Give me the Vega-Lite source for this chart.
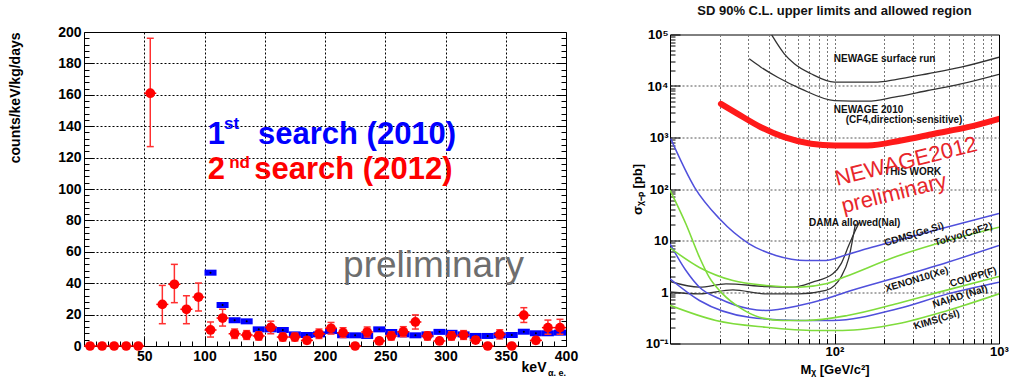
{
  "$schema": "https://vega.github.io/schema/vega-lite/v6.json",
  "background": "white",
  "padding": {"left": 7, "top": 4, "right": 0, "bottom": 0},
  "config": {
    "view": {"stroke": "#000", "strokeWidth": 1},
    "axis": {
      "domain": false,
      "labelFont": "Liberation Sans",
      "labelFontWeight": "bold",
      "labelColor": "#000",
      "titleFont": "Liberation Sans",
      "titleFontWeight": "bold",
      "titleColor": "#000",
      "tickColor": "#000",
      "labelFlush": false,
      "labelOverlap": false
    },
    "text": {"font": "Liberation Sans"}
  },
  "datasets": {
    "second": [
      {"c": 5, "v": 0}, {"c": 15, "v": 0}, {"c": 25, "v": 0}, {"c": 35, "v": 0}, {"c": 45, "v": 0},
      {"c": 55, "v": 161, "lo": 127, "hi": 196},
      {"c": 65, "v": 26.5, "lo": 14.2, "hi": 38.6},
      {"c": 75, "v": 39.3, "lo": 27.6, "hi": 52},
      {"c": 85, "v": 23.4, "lo": 14.2, "hi": 32},
      {"c": 95, "v": 31.2, "lo": 22.3, "hi": 40.1},
      {"c": 105, "v": 10.2, "lo": 5.7, "hi": 15.3},
      {"c": 115, "v": 17.8, "lo": 12.7, "hi": 23.4},
      {"c": 125, "v": 7.8, "lo": 4.8, "hi": 10.8},
      {"c": 135, "v": 7.0, "lo": 4.2, "hi": 9.8},
      {"c": 145, "v": 6.4, "lo": 3.8, "hi": 9.0},
      {"c": 155, "v": 11.8, "lo": 7.8, "hi": 15.8},
      {"c": 165, "v": 5.7, "lo": 3.2, "hi": 8.2},
      {"c": 175, "v": 5.7, "lo": 3.2, "hi": 8.2},
      {"c": 185, "v": 3.6, "lo": 1.6, "hi": 5.6},
      {"c": 195, "v": 7.8, "lo": 4.8, "hi": 10.8},
      {"c": 205, "v": 11.3, "lo": 7.6, "hi": 15.0},
      {"c": 215, "v": 8.5, "lo": 5.4, "hi": 11.6},
      {"c": 225, "v": 0},
      {"c": 235, "v": 8.9, "lo": 5.7, "hi": 12.1},
      {"c": 245, "v": 3.2, "lo": 1.3, "hi": 5.1},
      {"c": 255, "v": 6.4, "lo": 3.8, "hi": 9.0},
      {"c": 265, "v": 9.1, "lo": 5.9, "hi": 12.3},
      {"c": 275, "v": 15.3, "lo": 10.8, "hi": 19.8},
      {"c": 285, "v": 6.4, "lo": 3.8, "hi": 9.0},
      {"c": 295, "v": 3.2, "lo": 1.3, "hi": 5.1},
      {"c": 305, "v": 6.4, "lo": 3.8, "hi": 9.0},
      {"c": 315, "v": 7.0, "lo": 4.2, "hi": 9.8},
      {"c": 325, "v": 3.8, "lo": 1.8, "hi": 5.8},
      {"c": 335, "v": 0},
      {"c": 345, "v": 7.4, "lo": 4.5, "hi": 10.3},
      {"c": 355, "v": 0},
      {"c": 365, "v": 19.6, "lo": 15.0, "hi": 24.4},
      {"c": 375, "v": 3.6, "lo": 1.6, "hi": 5.6},
      {"c": 385, "v": 11.7, "lo": 7.5, "hi": 16.5},
      {"c": 395, "v": 11.7, "lo": 7.5, "hi": 17.0}
    ],
    "first": [
      {"c": 105, "v": 46.7}, {"c": 115, "v": 26.1}, {"c": 125, "v": 16.4}, {"c": 135, "v": 15.7},
      {"c": 145, "v": 10.6}, {"c": 155, "v": 10.6}, {"c": 165, "v": 10.2}, {"c": 175, "v": 7.4},
      {"c": 185, "v": 7.0}, {"c": 195, "v": 7.4}, {"c": 205, "v": 9.5}, {"c": 215, "v": 6.8},
      {"c": 225, "v": 6.8}, {"c": 235, "v": 6.4}, {"c": 245, "v": 10.6}, {"c": 255, "v": 8.9},
      {"c": 265, "v": 7.4}, {"c": 275, "v": 6.8}, {"c": 285, "v": 7.4}, {"c": 295, "v": 9.0},
      {"c": 305, "v": 8.4}, {"c": 315, "v": 7.4}, {"c": 325, "v": 6.4}, {"c": 335, "v": 6.4},
      {"c": 345, "v": 6.8}, {"c": 355, "v": 7.0}, {"c": 365, "v": 9.1}, {"c": 375, "v": 8.1},
      {"c": 385, "v": 8.1}, {"c": 395, "v": 8.5}
    ],
    "limits": [
      {"k": "surf", "m": 41.5, "s": 98000}, {"k": "surf", "m": 49.5, "s": 42200}, {"k": "surf", "m": 57, "s": 27000},
      {"k": "surf", "m": 72, "s": 17300}, {"k": "surf", "m": 100, "s": 11900}, {"k": "surf", "m": 183, "s": 11900},
      {"k": "surf", "m": 231, "s": 13200}, {"k": "surf", "m": 369, "s": 17300}, {"k": "surf", "m": 588, "s": 23200},
      {"k": "surf", "m": 1000, "s": 36200},
      {"k": "n2010", "m": 30.3, "s": 33700}, {"k": "n2010", "m": 35.7, "s": 23200}, {"k": "n2010", "m": 45.1, "s": 14800},
      {"k": "n2010", "m": 62.6, "s": 8810}, {"k": "n2010", "m": 100, "s": 5220}, {"k": "n2010", "m": 159, "s": 5070},
      {"k": "n2010", "m": 231, "s": 6070}, {"k": "n2010", "m": 369, "s": 8180}, {"k": "n2010", "m": 588, "s": 11000},
      {"k": "n2010", "m": 1000, "s": 16900},
      {"k": "n2012", "m": 20.4, "s": 4510}, {"k": "n2012", "m": 25.8, "s": 2880}, {"k": "n2012", "m": 35.7, "s": 1585},
      {"k": "n2012", "m": 49.5, "s": 1014}, {"k": "n2012", "m": 72, "s": 755}, {"k": "n2012", "m": 100, "s": 700},
      {"k": "n2012", "m": 159, "s": 700}, {"k": "n2012", "m": 254, "s": 875}, {"k": "n2012", "m": 404, "s": 1180},
      {"k": "n2012", "m": 645, "s": 1585}, {"k": "n2012", "m": 1000, "s": 2310},
      {"k": "cdms", "m": 10.1, "s": 950}, {"k": "cdms", "m": 14.1, "s": 108}, {"k": "cdms", "m": 20, "s": 26.4},
      {"k": "cdms", "m": 30.3, "s": 8.63}, {"k": "cdms", "m": 44, "s": 5.12}, {"k": "cdms", "m": 67, "s": 4.09},
      {"k": "cdms", "m": 88.7, "s": 4.09}, {"k": "cdms", "m": 112, "s": 5.0}, {"k": "cdms", "m": 159, "s": 7.0},
      {"k": "cdms", "m": 403, "s": 15.6}, {"k": "cdms", "m": 1000, "s": 33.4},
      {"k": "xenon", "m": 10, "s": 8.6}, {"k": "xenon", "m": 12.5, "s": 2.61}, {"k": "xenon", "m": 15.1, "s": 1.24},
      {"k": "xenon", "m": 20, "s": 0.738}, {"k": "xenon", "m": 30.3, "s": 0.472}, {"k": "xenon", "m": 38.3, "s": 0.438},
      {"k": "xenon", "m": 61, "s": 0.547}, {"k": "xenon", "m": 88.7, "s": 0.738}, {"k": "xenon", "m": 117, "s": 0.99},
      {"k": "xenon", "m": 242, "s": 1.94}, {"k": "xenon", "m": 488, "s": 3.79}, {"k": "xenon", "m": 1000, "s": 8.0},
      {"k": "naiad", "m": 10, "s": 1.8}, {"k": "naiad", "m": 15.1, "s": 0.684}, {"k": "naiad", "m": 30.3, "s": 0.324},
      {"k": "naiad", "m": 61, "s": 0.28}, {"k": "naiad", "m": 97.7, "s": 0.28}, {"k": "naiad", "m": 242, "s": 0.472},
      {"k": "naiad", "m": 488, "s": 0.92}, {"k": "naiad", "m": 1000, "s": 1.55},
      {"k": "kims", "m": 10, "s": 0.55}, {"k": "kims", "m": 19, "s": 0.28}, {"k": "kims", "m": 38.3, "s": 0.207},
      {"k": "kims", "m": 77, "s": 0.179}, {"k": "kims", "m": 112, "s": 0.179}, {"k": "kims", "m": 242, "s": 0.241},
      {"k": "kims", "m": 488, "s": 0.438}, {"k": "kims", "m": 1000, "s": 0.92},
      {"k": "tokyo", "m": 10, "s": 7.2}, {"k": "tokyo", "m": 15.1, "s": 3.0}, {"k": "tokyo", "m": 24.1, "s": 1.67},
      {"k": "tokyo", "m": 38.3, "s": 1.34}, {"k": "tokyo", "m": 61, "s": 1.24}, {"k": "tokyo", "m": 88.7, "s": 1.44},
      {"k": "tokyo", "m": 117, "s": 2.0}, {"k": "tokyo", "m": 242, "s": 5.0}, {"k": "tokyo", "m": 488, "s": 10.0},
      {"k": "tokyo", "m": 1000, "s": 18.1},
      {"k": "coupp", "m": 10, "s": 95}, {"k": "coupp", "m": 12.5, "s": 20.9}, {"k": "coupp", "m": 15.1, "s": 4.74},
      {"k": "coupp", "m": 17.3, "s": 1.94}, {"k": "coupp", "m": 20.9, "s": 0.92}, {"k": "coupp", "m": 26.3, "s": 0.507},
      {"k": "coupp", "m": 34.9, "s": 0.324}, {"k": "coupp", "m": 48.3, "s": 0.28}, {"k": "coupp", "m": 67, "s": 0.28},
      {"k": "coupp", "m": 120, "s": 0.35}, {"k": "coupp", "m": 242, "s": 0.6}, {"k": "coupp", "m": 488, "s": 1.1},
      {"k": "coupp", "m": 1000, "s": 2.0},
      {"k": "dama1", "m": 10, "s": 1.6}, {"k": "dama1", "m": 15.1, "s": 1.24}, {"k": "dama1", "m": 21.9, "s": 1.44},
      {"k": "dama1", "m": 38.3, "s": 1.28}, {"k": "dama1", "m": 55.7, "s": 1.24}, {"k": "dama1", "m": 73.6, "s": 1.55},
      {"k": "dama1", "m": 97.7, "s": 2.25}, {"k": "dama1", "m": 110, "s": 3.6}, {"k": "dama1", "m": 122, "s": 8},
      {"k": "dama1", "m": 133, "s": 15}, {"k": "dama1", "m": 142, "s": 23},
      {"k": "dama2", "m": 10, "s": 1.0}, {"k": "dama2", "m": 15.1, "s": 0.92}, {"k": "dama2", "m": 24.1, "s": 1.1},
      {"k": "dama2", "m": 38.3, "s": 0.92}, {"k": "dama2", "m": 61, "s": 0.92}, {"k": "dama2", "m": 88.7, "s": 1.07},
      {"k": "dama2", "m": 110, "s": 2.0}, {"k": "dama2", "m": 122, "s": 4.5}, {"k": "dama2", "m": 134, "s": 21}
    ]
  },
  "hconcat": [
    {
      "width": 482,
      "height": 314,
      "resolve": {"axis": {"y": "independent"}},
      "layer": [
        {
          "layer": [
            {
              "mark": {"type": "rule", "color": "#ff0000", "strokeWidth": 2},
              "encoding": {"y": {"datum": 0}}
            },
            {
              "mark": {"type": "rule", "color": "#ff0000", "strokeWidth": 1.5},
              "encoding": {"x": {"datum": 400}}
            },
            {
              "data": {"name": "first"},
              "mark": {"type": "tick", "orient": "horizontal", "size": 12, "thickness": 6, "color": "#0000ff", "opacity": 1},
              "encoding": {
                "x": {
                  "field": "c", "type": "quantitative",
                  "scale": {"domain": [0, 400], "nice": false},
                  "axis": {
                    "values": [0,10,20,30,40,50,60,70,80,90,100,110,120,130,140,150,160,170,180,190,200,210,220,230,240,250,260,270,280,290,300,310,320,330,340,350,360,370,380,390,400],
                    "tickCount": 1000,
                    "format": "d",
                    "labelExpr": "datum.value % 50 == 0 && datum.value > 0 ? datum.label : ''",
                    "labelOverlap": false,
                    "labelFlush": false,
                    "labelFontSize": 14,
                    "labelPadding": 13,
                    "tickSize": {"condition": {"test": "datum.value % 50 == 0", "value": -10}, "value": -5},
                    "grid": true,
                    "gridColor": "#000",
                    "gridDash": [2, 2],
                    "gridOpacity": {"condition": {"test": "datum.value % 50 == 0 && datum.value > 0 && datum.value < 400", "value": 1}, "value": 0},
                    "title": "keV",
                    "titleFontSize": 14,
                    "titleX": 462,
                    "titleY": 25,
                    "titleAlign": "right",
                    "titleBaseline": "alphabetic"
                  }
                },
                "y": {
                  "field": "v", "type": "quantitative",
                  "scale": {"domain": [0, 200], "nice": false},
                  "axis": {
                    "values": [0,4,8,12,16,20,24,28,32,36,40,44,48,52,56,60,64,68,72,76,80,84,88,92,96,100,104,108,112,116,120,124,128,132,136,140,144,148,152,156,160,164,168,172,176,180,184,188,192,196,200],
                    "tickCount": 1000,
                    "format": "d",
                    "labelExpr": "datum.value % 20 == 0 ? datum.label : ''",
                    "labelOverlap": false,
                    "labelFlush": false,
                    "labelFontSize": 14,
                    "labelPadding": 13,
                    "tickSize": {"condition": {"test": "datum.value % 20 == 0", "value": -10}, "value": -5},
                    "grid": true,
                    "gridColor": "#000",
                    "gridDash": [2, 2],
                    "gridOpacity": {"condition": {"test": "datum.value % 20 == 0 && datum.value > 0 && datum.value < 200", "value": 1}, "value": 0},
                    "title": "counts/keV/kg/days",
                    "titleFontSize": 14,
                    "titleX": -65,
                    "titleY": 0,
                    "titleAlign": "right",
                    "titleBaseline": "alphabetic"
                  }
                }
              }
            },
            {
              "data": {"name": "first"},
              "mark": {"type": "point", "filled": true, "size": 4, "color": "#000", "opacity": 1},
              "encoding": {
                "x": {"field": "c", "type": "quantitative"},
                "y": {"field": "v", "type": "quantitative"}
              }
            },
            {
              "data": {"name": "second"},
              "transform": [{"filter": "isValid(datum.lo)"}],
              "mark": {"type": "rule", "color": "#ff3030", "strokeWidth": 1.5},
              "encoding": {
                "x": {"field": "c", "type": "quantitative"},
                "y": {"field": "lo", "type": "quantitative"},
                "y2": {"field": "hi"}
              }
            },
            {
              "data": {"name": "second"},
              "transform": [{"filter": "isValid(datum.lo)"}],
              "mark": {"type": "tick", "orient": "horizontal", "size": 7, "thickness": 1.5, "color": "#ff3030", "opacity": 1},
              "encoding": {
                "x": {"field": "c", "type": "quantitative"},
                "y": {"field": "lo", "type": "quantitative"}
              }
            },
            {
              "data": {"name": "second"},
              "transform": [{"filter": "isValid(datum.hi)"}],
              "mark": {"type": "tick", "orient": "horizontal", "size": 7, "thickness": 1.5, "color": "#ff3030", "opacity": 1},
              "encoding": {
                "x": {"field": "c", "type": "quantitative"},
                "y": {"field": "hi", "type": "quantitative"}
              }
            },
            {
              "data": {"name": "second"},
              "mark": {"type": "tick", "orient": "horizontal", "size": 12, "thickness": 1.5, "color": "#ff0000", "opacity": 1},
              "encoding": {
                "x": {"field": "c", "type": "quantitative"},
                "y": {"field": "v", "type": "quantitative"}
              }
            },
            {
              "data": {"name": "second"},
              "mark": {"type": "point", "filled": true, "size": 95, "color": "#ff0000", "opacity": 1},
              "encoding": {
                "x": {"field": "c", "type": "quantitative"},
                "y": {"field": "v", "type": "quantitative"}
              }
            },
            {
              "data": {"values": [
                {"x": 102.7, "y": 128.7, "t": "1"},
                {"x": 144.4, "y": 128.7, "t": "search (2010)"}
              ]},
              "mark": {"type": "text", "align": "left", "baseline": "alphabetic", "fontSize": 31, "fontWeight": "bold", "color": "#0000ff"},
              "encoding": {"x": {"field": "x", "type": "quantitative"}, "y": {"field": "y", "type": "quantitative"}, "text": {"field": "t"}}
            },
            {
              "data": {"values": [{"x": 116.2, "y": 138.2, "t": "st"}]},
              "mark": {"type": "text", "align": "left", "baseline": "alphabetic", "fontSize": 17, "fontWeight": "bold", "color": "#0000ff"},
              "encoding": {"x": {"field": "x", "type": "quantitative"}, "y": {"field": "y", "type": "quantitative"}, "text": {"field": "t"}}
            },
            {
              "data": {"values": [
                {"x": 102.7, "y": 106.4, "t": "2"},
                {"x": 141.3, "y": 106.4, "t": "search (2012)"}
              ]},
              "mark": {"type": "text", "align": "left", "baseline": "alphabetic", "fontSize": 31, "fontWeight": "bold", "color": "#ff0000"},
              "encoding": {"x": {"field": "x", "type": "quantitative"}, "y": {"field": "y", "type": "quantitative"}, "text": {"field": "t"}}
            },
            {
              "data": {"values": [{"x": 120.5, "y": 113.4, "t": "nd"}]},
              "mark": {"type": "text", "align": "left", "baseline": "alphabetic", "fontSize": 17, "fontWeight": "bold", "color": "#ff0000"},
              "encoding": {"x": {"field": "x", "type": "quantitative"}, "y": {"field": "y", "type": "quantitative"}, "text": {"field": "t"}}
            },
            {
              "data": {"values": [{"x": 215, "y": 44, "t": "preliminary"}]},
              "mark": {"type": "text", "align": "left", "baseline": "alphabetic", "fontSize": 37, "color": "#6e6e6e"},
              "encoding": {"x": {"field": "x", "type": "quantitative"}, "y": {"field": "y", "type": "quantitative"}, "text": {"field": "t"}}
            },
            {
              "data": {"values": [{"x": 385, "y": -19.1, "t": "α. e."}]},
              "mark": {"type": "text", "align": "left", "baseline": "alphabetic", "fontSize": 9, "fontWeight": "bold", "color": "#000"},
              "encoding": {"x": {"field": "x", "type": "quantitative"}, "y": {"field": "y", "type": "quantitative"}, "text": {"field": "t"}}
            }
          ]
        },
        {
          "data": {"name": "first"},
          "mark": {"type": "point", "opacity": 0},
          "encoding": {
            "y": {
              "field": "v", "type": "quantitative",
              "axis": {
                "orient": "right",
                "values": [0,4,8,12,16,20,24,28,32,36,40,44,48,52,56,60,64,68,72,76,80,84,88,92,96,100,104,108,112,116,120,124,128,132,136,140,144,148,152,156,160,164,168,172,176,180,184,188,192,196,200],
                "tickCount": 1000,
                "labels": false,
                "grid": false,
                "title": null,
                "tickSize": {"condition": {"test": "datum.value % 20 == 0", "value": -10}, "value": -5}
              }
            }
          }
        }
      ]
    },
    {
      "width": 329,
      "height": 309,
      "title": {"text": "SD 90% C.L. upper limits and allowed region", "font": "Liberation Sans", "fontSize": 13, "fontWeight": "bold", "color": "#111", "anchor": "middle", "offset": 10.5},
      "data": {"name": "limits"},
      "layer": [
        {
          "transform": [{"filter": {"field": "k", "oneOf": ["surf", "n2010", "dama1", "dama2"]}}],
          "mark": {"type": "line", "color": "#333", "strokeWidth": 1.3, "interpolate": "monotone", "clip": true},
          "encoding": {
            "x": {
              "field": "m", "type": "quantitative",
              "scale": {"type": "log", "domain": [10, 1000], "nice": false},
              "axis": {
                "values": [10,20,30,40,50,60,70,80,90,100,200,300,400,500,600,700,800,900,1000],
                "tickCount": 1000,
                "labelExpr": "datum.value == 100 ? '10²' : datum.value == 1000 ? '10³' : ''",
                "labelOverlap": false,
                "labelFlush": false,
                "labelFontSize": 13,
                "labelPadding": 12,
                "tickSize": {"condition": {"test": "datum.value == 10 || datum.value == 100 || datum.value == 1000", "value": -10}, "value": -5},
                "grid": true,
                "gridColor": "#777",
                "gridDash": [2, 2],
                "gridOpacity": {"condition": {"test": "datum.value > 10 && datum.value < 1000", "value": 1}, "value": 0},
                "title": "Mᵪ [GeV/c²]",
                "titleFontSize": 13,
                "titlePadding": 0
              }
            },
            "y": {
              "field": "s", "type": "quantitative",
              "scale": {"type": "log", "domain": [0.1, 100000], "nice": false},
              "axis": {
                "values": [0.1,0.2,0.3,0.4,0.5,0.6,0.7,0.8,0.9,1,2,3,4,5,6,7,8,9,10,20,30,40,50,60,70,80,90,100,200,300,400,500,600,700,800,900,1000,2000,3000,4000,5000,6000,7000,8000,9000,10000,20000,30000,40000,50000,60000,70000,80000,90000,100000],
                "tickCount": 1000,
                "labelExpr": "datum.value == 100000 ? '10⁵' : datum.value == 10000 ? '10⁴' : datum.value == 1000 ? '10³' : datum.value == 100 ? '10²' : datum.value == 10 ? '10' : datum.value == 1 ? '1' : datum.value == 0.1 ? '10⁻¹' : ''",
                "labelOverlap": false,
                "labelFlush": false,
                "labelFontSize": 13,
                "labelPadding": 12,
                "tickSize": {"condition": {"test": "datum.value == 0.1 || datum.value == 1 || datum.value == 10 || datum.value == 100 || datum.value == 1000 || datum.value == 10000 || datum.value == 100000", "value": -10}, "value": -5},
                "grid": true,
                "gridColor": "#555",
                "gridDash": [2, 2],
                "gridOpacity": {"condition": {"test": "datum.value == 1 || datum.value == 10 || datum.value == 100 || datum.value == 1000 || datum.value == 10000", "value": 1}, "value": 0},
                "title": "σᵪ₋ₚ [pb]",
                "titleFontSize": 13,
                "titlePadding": 1
              }
            },
            "detail": {"field": "k"}
          }
        },
        {
          "transform": [{"filter": {"field": "k", "oneOf": ["cdms", "xenon", "naiad"]}}],
          "mark": {"type": "line", "color": "#5050dc", "strokeWidth": 1.5, "interpolate": "monotone", "clip": true},
          "encoding": {
            "x": {"field": "m", "type": "quantitative"},
            "y": {"field": "s", "type": "quantitative"},
            "detail": {"field": "k"}
          }
        },
        {
          "transform": [{"filter": {"field": "k", "oneOf": ["tokyo", "coupp", "kims"]}}],
          "mark": {"type": "line", "color": "#7fdc3c", "strokeWidth": 1.6, "interpolate": "monotone", "clip": true},
          "encoding": {
            "x": {"field": "m", "type": "quantitative"},
            "y": {"field": "s", "type": "quantitative"},
            "detail": {"field": "k"}
          }
        },
        {
          "transform": [{"filter": {"field": "k", "equal": "n2012"}}],
          "mark": {"type": "line", "color": "#ff1a1a", "strokeWidth": 6, "strokeCap": "round", "interpolate": "monotone", "clip": true},
          "encoding": {
            "x": {"field": "m", "type": "quantitative"},
            "y": {"field": "s", "type": "quantitative"}
          }
        },
        {
          "data": {"values": [
            {"m": 99, "s": 29000, "t": "NEWAGE surface run"},
            {"m": 99, "s": 3055, "t": "NEWAGE 2010"},
            {"m": 117, "s": 1955, "t": "(CF4,direction-sensitive)"},
            {"m": 200, "s": 191, "t": "THIS WORK"},
            {"m": 70, "s": 19.5, "t": "DAMA allowed(NaI)"}
          ]},
          "mark": {"type": "text", "align": "left", "baseline": "alphabetic", "fontSize": 10, "fontWeight": "bold", "color": "#111"},
          "encoding": {
            "x": {"field": "m", "type": "quantitative"},
            "y": {"field": "s", "type": "quantitative"},
            "text": {"field": "t"}
          }
        },
        {
          "data": {"values": [
            {"m": 305, "s": 13.1, "t": "CDMS(Ge,Si)"},
            {"m": 607, "s": 13.1, "t": "Tokyo(CaF2)"},
            {"m": 316, "s": 1.75, "t": "XENON10(Xe)"},
            {"m": 698, "s": 1.94, "t": "COUPP(F)"},
            {"m": 580, "s": 0.818, "t": "NAIAD (NaI)"},
            {"m": 418, "s": 0.288, "t": "KIMS(CsI)"}
          ]},
          "mark": {"type": "text", "align": "center", "baseline": "middle", "angle": -17, "fontSize": 10, "fontWeight": "bold", "color": "#111"},
          "encoding": {
            "x": {"field": "m", "type": "quantitative"},
            "y": {"field": "s", "type": "quantitative"},
            "text": {"field": "t"}
          }
        },
        {
          "data": {"values": [
            {"m": 272, "s": 342, "t": "NEWAGE2012"},
            {"m": 230, "s": 82, "t": "preliminary"}
          ]},
          "mark": {"type": "text", "align": "center", "baseline": "middle", "angle": -14, "fontSize": 22, "color": "#e8262b"},
          "encoding": {
            "x": {"field": "m", "type": "quantitative"},
            "y": {"field": "s", "type": "quantitative"},
            "text": {"field": "t"}
          }
        }
      ]
    }
  ],
  "spacing": 104,
  "bounds": "flush",
  "center": true
}
